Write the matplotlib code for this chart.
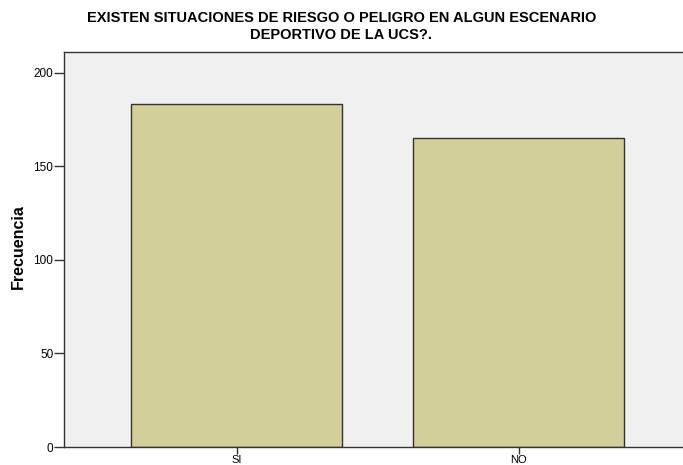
import matplotlib
matplotlib.use('Agg')
import matplotlib.pyplot as plt

categorias = ['SI', 'NO']
frecuencias = [183, 165]
ticks_y = [0, 50, 100, 150, 200]
titulo = ['EXISTEN SITUACIONES DE RIESGO O PELIGRO EN ALGUN ESCENARIO',
          'DEPORTIVO DE LA UCS?.']

plt.rcParams['font.family'] = ['Liberation Sans', 'DejaVu Sans']

W, H = 683, 465
fig = plt.figure(figsize=(W / 100, H / 100), dpi=100)
ax = fig.add_axes([0.0944, 0.0387, 0.9167, 0.8495])
ax.set_facecolor('#F0F0F0')

x = range(len(categorias))
ax.bar(x, frecuencias, width=0.75, color='#D3CF98', edgecolor='#333333', linewidth=1.0)

ax.set_xlim(-0.61, 1.61)
ax.set_ylim(0, 211)
ax.set_yticks(ticks_y)
ax.set_xticks(list(x))
ax.set_xticklabels(categorias)
ax.tick_params(axis='both', direction='out', length=7, width=1, color='#333333',
               labelsize=8.5, pad=1)
# etiquetas x pegadas al eje para que quepan en la imagen
ax.tick_params(axis='x', length=5, labelsize=8, pad=0.5)

for s in ax.spines.values():
    s.set_color('#333333')
    s.set_linewidth(1.0)

# etiqueta del eje y
fig.text(18 / W, 1 - 247 / H, 'Frecuencia', rotation=90, ha='center', va='center',
         fontsize=11.5, fontweight='bold')

# titulo en dos lineas
for linea, base in zip(titulo, [22, 39]):
    fig.text(0.5, 1 - base / H, linea, ha='center', va='baseline', fontsize=10.5,
             fontweight='bold')

fig.savefig('out.png', dpi=100)
